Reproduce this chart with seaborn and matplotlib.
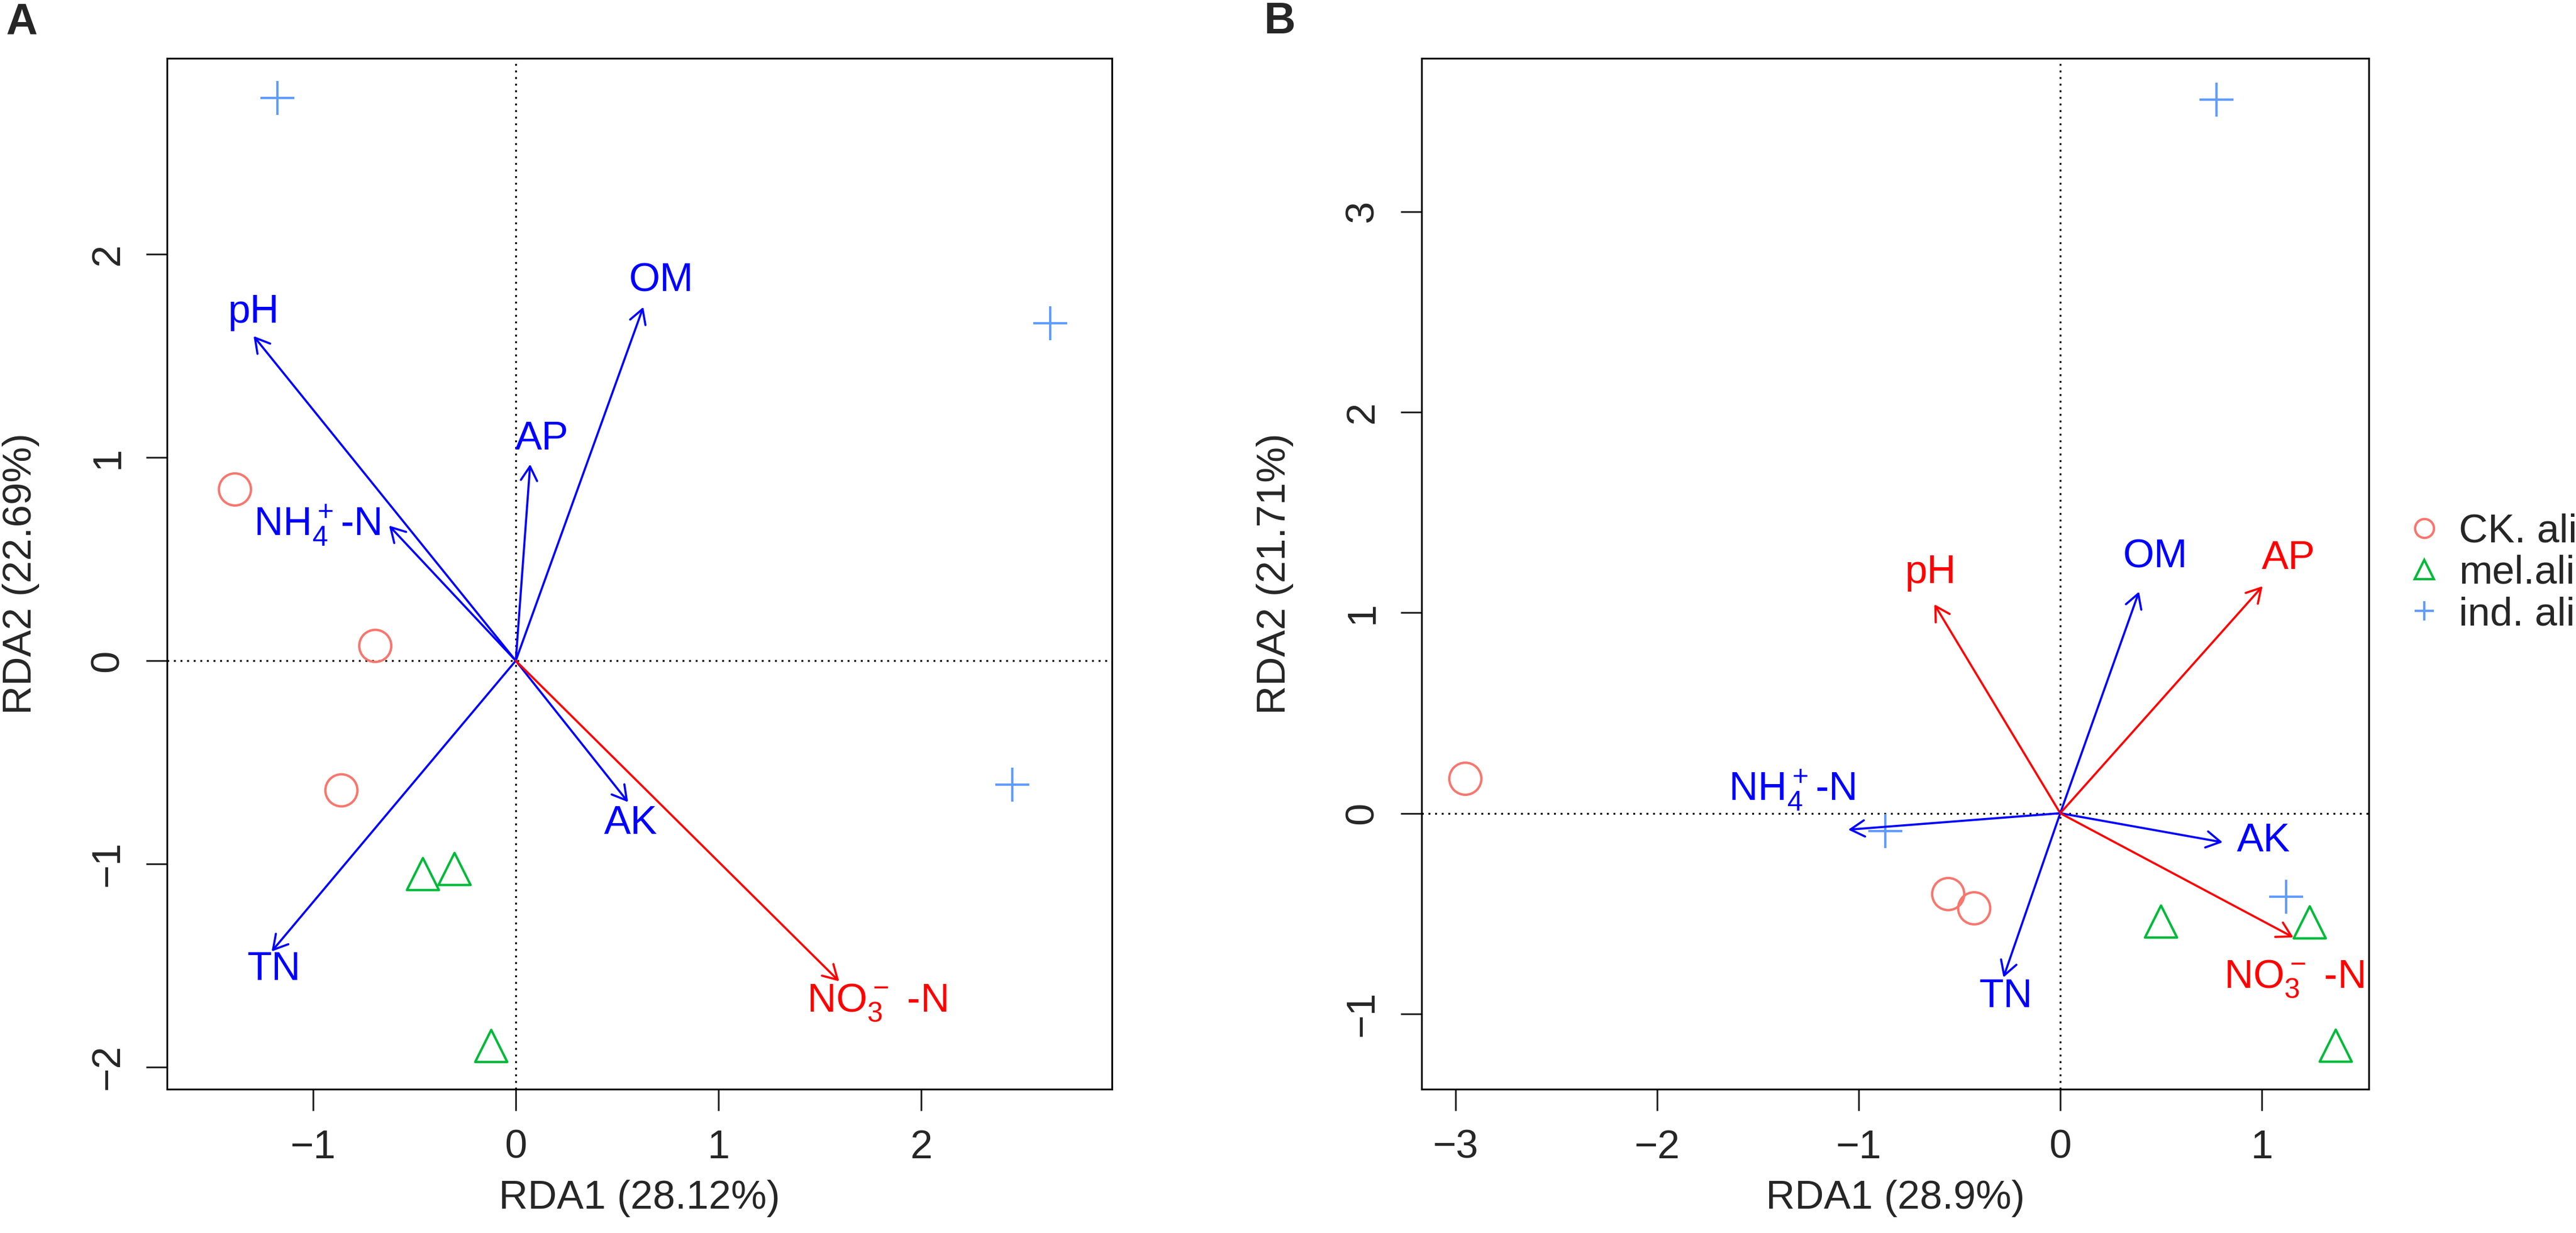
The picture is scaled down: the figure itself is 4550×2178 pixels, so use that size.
import numpy as np
import pandas as pd
import matplotlib
matplotlib.use("Agg")
import matplotlib.pyplot as plt
from matplotlib.lines import Line2D
import seaborn as sns

# groups and colours
groups = ["CK. ali", "mel.ali", "ind. ali"]
group_colors = ["#F8766D", "#00BA38", "#619CFF"]
group_markers = ["o", "^", "+"]

# panel A: site scores
a_group = ["CK. ali"] * 3 + ["mel.ali"] * 3 + ["ind. ali"] * 3
a_x = [-1.385, -0.693, -0.860, -0.458, -0.302, -0.121, -1.176, 2.636, 2.448]
a_y = [0.843, 0.073, -0.638, -1.050, -1.025, -1.896, 2.770, 1.660, -0.611]

# panel A: environmental arrows
a_env = ["pH", "OM", "AP", "NH4", "AK", "TN", "NO3"]
a_env_x = [-1.293, 0.629, 0.071, -0.625, 0.554, -1.204, 1.595]
a_env_y = [1.598, 1.741, 0.967, 0.665, -0.696, -1.431, -1.578]
a_env_col = ["blue", "blue", "blue", "blue", "blue", "blue", "red"]
a_lab_x = [-1.293, 0.718, 0.128, -0.980, 0.568, -1.194, 1.780]
a_lab_y = [1.714, 1.868, 1.091, 0.665, -0.801, -1.520, -1.683]

# panel B: site scores
b_group = ["CK. ali"] * 3 + ["mel.ali"] * 3 + ["ind. ali"] * 3
b_x = [-2.952, -0.556, -0.427, 0.500, 1.238, 1.367, 0.774, -0.867, 1.121]
b_y = [0.172, -0.403, -0.474, -0.540, -0.544, -1.159, 3.557, -0.090, -0.415]

# panel B: environmental arrows
b_env = ["pH", "OM", "AP", "NH4", "AK", "TN", "NO3"]
b_env_x = [-0.625, 0.391, 1.004, -1.052, 0.806, -0.282, 1.157]
b_env_y = [1.042, 1.105, 1.132, -0.082, -0.145, -0.819, -0.619]
b_env_col = ["red", "blue", "red", "blue", "blue", "blue", "red"]
b_lab_x = [-0.645, 0.472, 1.133, -1.331, 1.008, -0.270, 1.161]
b_lab_y = [1.199, 1.277, 1.269, 0.114, -0.141, -0.917, -0.826]

env_text = {"pH": "pH", "OM": "OM", "AP": "AP", "AK": "AK", "TN": "TN",
            "NH4": r"NH$_4^+$-N", "NO3": r"NO$_3^-$ -N"}

sns.set_style("ticks")
plt.rcParams["font.family"] = ["Liberation Sans", "DejaVu Sans"]
plt.rcParams["mathtext.fontset"] = "custom"
plt.rcParams["mathtext.rm"] = "Liberation Sans"
plt.rcParams["mathtext.default"] = "regular"
plt.rcParams["axes.unicode_minus"] = True

FS = 17
W, H = 4550, 2178
fig = plt.figure(figsize=(W / 300, H / 300), dpi=300)
ax_a = fig.add_axes([295 / W, 1 - 1924 / H, 1669 / W, 1821 / H])
ax_b = fig.add_axes([2511 / W, 1 - 1924 / H, 1673 / W, 1821 / H])


def draw_panel(ax, gx, gy, gg, ex, ey, ecol, names, lx, ly, xlim, ylim,
               xticks, yticks, xlab, ylab):
    ax.axhline(0, color="black", ls=(0, (1, 2.5)), lw=0.8, zorder=1)
    ax.axvline(0, color="black", ls=(0, (1, 2.5)), lw=0.8, zorder=1)
    df = pd.DataFrame({"x": gx, "y": gy, "group": gg})
    # open symbols like R pch 1/2/3, one call per group
    for g, c, m in zip(groups, group_colors, group_markers):
        sub = df[df["group"] == g]
        if m == "+":
            sns.scatterplot(data=sub, x="x", y="y", marker=m, color=c,
                            s=210, linewidth=1.0, ax=ax, zorder=3)
        else:
            sns.scatterplot(data=sub, x="x", y="y", marker=m, s=185,
                            facecolors="none", edgecolor=c, linewidth=1.0,
                            ax=ax, zorder=3)
    for x, y, c, n, tx, ty in zip(ex, ey, ecol, names, lx, ly):
        ax.annotate("", xy=(x, y), xytext=(0, 0),
                    arrowprops=dict(arrowstyle="->,head_length=0.4,head_width=0.23",
                                    color=c, lw=0.9, shrinkA=0, shrinkB=0,
                                    mutation_scale=15), zorder=4)
        ax.text(tx, ty, env_text[n], color=c, fontsize=FS,
                ha="center", va="center", zorder=5)
    ax.set_xlim(xlim)
    ax.set_ylim(ylim)
    ax.set_xticks(xticks)
    ax.set_yticks(yticks)
    ax.set_xticklabels([f"{t:d}".replace("-", "\u2212") for t in xticks])
    ax.set_yticklabels([f"{t:d}".replace("-", "\u2212") for t in yticks])
    ax.tick_params(axis="both", length=9, width=0.75, labelsize=FS, pad=8,
                   direction="out")
    ax.tick_params(axis="y", labelrotation=90)
    plt.setp(ax.get_yticklabels(), va="center")
    for sp in ax.spines.values():
        sp.set_visible(True)
        sp.set_linewidth(0.75)
        sp.set_color("black")
    ax.set_xlabel(xlab, fontsize=FS)
    ax.set_ylabel(ylab, fontsize=FS)
    ax.xaxis.set_label_coords(0.5, -0.088)
    ax.yaxis.set_label_coords(-0.135, 0.5)


draw_panel(ax_a, a_x, a_y, a_group, a_env_x, a_env_y, a_env_col, a_env,
           a_lab_x, a_lab_y, (-1.72, 2.94), (-2.109, 2.965),
           [-1, 0, 1, 2], [-2, -1, 0, 1, 2],
           "RDA1 (28.12%)", "RDA2 (22.69%)")
draw_panel(ax_b, b_x, b_y, b_group, b_env_x, b_env_y, b_env_col, b_env,
           b_lab_x, b_lab_y, (-3.169, 1.531), (-1.376, 3.764),
           [-3, -2, -1, 0, 1], [-1, 0, 1, 2, 3],
           "RDA1 (28.9%)", "RDA2 (21.71%)")

# legend on the right of panel B
handles = [Line2D([], [], ls="none", marker=m, color=c, mfc="none",
                  markersize=8, mew=1.0)
           for m, c in zip(group_markers, group_colors)]
fig.legend(handles, groups, loc="center left",
           bbox_to_anchor=(4247 / W, 1 - 1013 / H), frameon=False,
           fontsize=FS, handlelength=1.0, handletextpad=0.36,
           labelspacing=0.1, borderpad=0, borderaxespad=0)

fig.text(10 / W, 1 - 4 / H, "A", fontsize=18.5, fontweight="bold",
         ha="left", va="top")
fig.text(2233 / W, 1 - 2 / H, "B", fontsize=18.5, fontweight="bold",
         ha="left", va="top")

fig.savefig("out.png", dpi=300, facecolor="white")
